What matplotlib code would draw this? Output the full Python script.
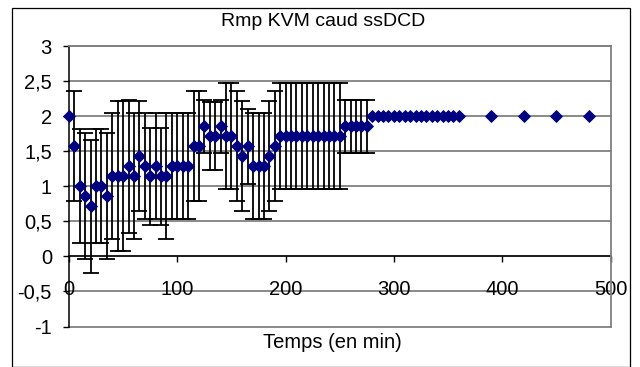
import matplotlib
matplotlib.use("Agg")
import matplotlib.pyplot as plt
from matplotlib.patches import Rectangle
import numpy as np

plt.rcParams['font.family'] = ['Liberation Sans', 'DejaVu Sans']

# Time points (min), mean score and standard deviation
temps = [0, 5, 10, 15, 20, 25, 30, 35, 40, 45, 50, 55, 60, 65, 70, 75, 80, 85,
         90, 95, 100, 105, 110, 115, 120, 125, 130, 135, 140, 145, 150, 155,
         160, 165, 170, 175, 180, 185, 190, 195, 200, 205, 210, 215, 220, 225,
         230, 235, 240, 245, 250, 255, 260, 265, 270, 275, 280, 285, 290, 295,
         300, 305, 310, 315, 320, 325, 330, 335, 340, 345, 350, 355, 360,
         390, 420, 450, 480]

moyenne = [2.000, 1.571, 1.000, 0.857, 0.714, 1.000, 1.000, 0.857, 1.143,
           1.143, 1.143, 1.286, 1.143, 1.429, 1.286, 1.143, 1.286, 1.143,
           1.143, 1.286, 1.286, 1.286, 1.286, 1.571, 1.571, 1.857, 1.714,
           1.714, 1.857, 1.714, 1.714, 1.571, 1.429, 1.571, 1.286, 1.286,
           1.286, 1.429, 1.571, 1.714, 1.714, 1.714, 1.714, 1.714, 1.714,
           1.714, 1.714, 1.714, 1.714, 1.714, 1.714, 1.857, 1.857, 1.857,
           1.857, 1.857, 2.000, 2.000, 2.000, 2.000, 2.000, 2.000, 2.000,
           2.000, 2.000, 2.000, 2.000, 2.000, 2.000, 2.000, 2.000, 2.000,
           2.000, 2.000, 2.000, 2.000, 2.000]

ecart_type = [0.000, 0.787, 0.816, 0.900, 0.951, 0.816, 0.816, 0.900, 0.900,
              1.069, 1.069, 0.951, 0.900, 0.787, 0.756, 0.690, 0.756, 0.690,
              0.900, 0.756, 0.756, 0.756, 0.756, 0.787, 0.787, 0.378, 0.488,
              0.488, 0.378, 0.756, 0.756, 0.787, 0.787, 0.535, 0.756, 0.756,
              0.756, 0.787, 0.787, 0.756, 0.756, 0.756, 0.756, 0.756, 0.756,
              0.756, 0.756, 0.756, 0.756, 0.756, 0.756, 0.378, 0.378, 0.378,
              0.378, 0.378, 0.000, 0.000, 0.000, 0.000, 0.000, 0.000, 0.000,
              0.000, 0.000, 0.000, 0.000, 0.000, 0.000, 0.000, 0.000, 0.000,
              0.000, 0.000, 0.000, 0.000, 0.000]

y_ticks = [-1, -0.5, 0, 0.5, 1, 1.5, 2, 2.5, 3]
y_labels = ['-1', '-0,5', '0', '0,5', '1', '1,5', '2', '2,5', '3']
x_ticks = [0, 100, 200, 300, 400, 500]
x_labels = ['0', '100', '200', '300', '400', '500']

W, H = 640, 367
fig = plt.figure(figsize=(W / 100, H / 100), dpi=100)

# outer chart frame
fig.patches.append(Rectangle((11.5 / W, 0.5 / H), (630 - 11.5) / W, (366 - 7) / H,
                             transform=fig.transFigure, fill=False,
                             edgecolor='black', linewidth=0.9))

ax = fig.add_axes([69 / W, (H - 326.5) / H, (610.5 - 69) / W, (326.5 - 46) / H])
ax.set_xlim(0, 500)
ax.set_ylim(-1, 3)

t = np.array(temps, dtype=float)
m = np.array(moyenne)
s = np.array(ecart_type)
has_err = s > 0

ax.errorbar(t[has_err], m[has_err], yerr=s[has_err], fmt='none',
            ecolor='black', elinewidth=1.3, capsize=5.8, capthick=1.3,
            zorder=3, clip_on=False)
ax.plot(t, m, linestyle='none', marker='D', markersize=6.6,
        markerfacecolor='#000080', markeredgecolor='#000080',
        markeredgewidth=0.6, zorder=4, clip_on=False)

# horizontal gridlines and plot-area border
for yv in y_ticks:
    ax.axhline(yv, color='#808080', linewidth=1.3, zorder=1, clip_on=False)
for side in ('top', 'right'):
    ax.spines[side].set_color('#808080')
    ax.spines[side].set_linewidth(1.3)
ax.spines['left'].set_color('black')
ax.spines['left'].set_linewidth(1.1)
ax.spines['bottom'].set_position(('data', 0))
ax.spines['bottom'].set_color('black')
ax.spines['bottom'].set_linewidth(1.1)
ax.spines['bottom'].set_zorder(2)

ax.set_yticks(y_ticks)
ax.set_yticklabels(y_labels)
ax.set_xticks(x_ticks)
ax.set_xticklabels(x_labels)
ax.tick_params(axis='y', direction='out', length=4.3, width=1.0, pad=8,
               labelsize=14.5, colors='black')
ax.tick_params(axis='x', direction='out', length=4.3, width=1.0, pad=13,
               labelsize=14.5, colors='black')

fig.text(323 / W, 1 - 22 / H, 'Rmp KVM caud ssDCD', ha='center', va='center',
         fontsize=14)
fig.text(332 / W, 1 - 343 / H, 'Temps (en min)', ha='center', va='center',
         fontsize=14.5)

fig.savefig('out.png', dpi=100)
